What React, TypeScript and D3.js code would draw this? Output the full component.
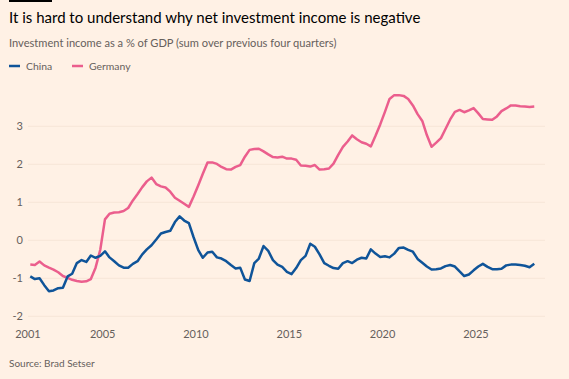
import * as d3 from "d3";

// quarterly, from 2001 Q1
const startYear = 2001;
const germany = [
  -0.64, -0.65, -0.56, -0.66, -0.72, -0.77, -0.84, -0.94, -0.99, -1.04,
  -1.07, -1.09, -1.08, -1.02, -0.72, -0.25, 0.55, 0.7, 0.73, 0.74,
  0.77, 0.85, 1.05, 1.22, 1.4, 1.55, 1.65, 1.48, 1.42, 1.39,
  1.28, 1.12, 1.04, 0.96, 0.88, 1.15, 1.45, 1.75, 2.05, 2.05,
  2.01, 1.93, 1.87, 1.86, 1.93, 1.98, 2.2, 2.38, 2.4, 2.41,
  2.34, 2.26, 2.19, 2.18, 2.2, 2.15, 2.15, 2.12, 1.97, 1.96,
  1.94, 1.98, 1.86, 1.87, 1.89, 2.02, 2.25, 2.46, 2.6, 2.76,
  2.66, 2.58, 2.54, 2.47, 2.75, 3.05, 3.38, 3.72, 3.82, 3.82,
  3.8, 3.72, 3.55, 3.32, 3.14, 2.77, 2.46, 2.57, 2.69, 2.93,
  3.18, 3.38, 3.43, 3.37, 3.42, 3.48, 3.34, 3.19, 3.18, 3.17,
  3.26, 3.4, 3.47, 3.55, 3.55, 3.53, 3.52, 3.51, 3.52,
];
const china = [
  -0.95, -1.02, -1.0, -1.18, -1.34, -1.32, -1.26, -1.25, -0.95, -0.88,
  -0.6, -0.52, -0.57, -0.4, -0.46, -0.41, -0.29, -0.45, -0.55, -0.66,
  -0.72, -0.72, -0.62, -0.55, -0.37, -0.24, -0.13, 0.02, 0.18, 0.22,
  0.25, 0.48, 0.63, 0.52, 0.45, 0.08, -0.26, -0.46, -0.32, -0.3,
  -0.45, -0.48, -0.55, -0.65, -0.74, -0.72, -1.03, -1.07, -0.6, -0.48,
  -0.15, -0.28, -0.52, -0.64, -0.7, -0.83, -0.89, -0.73, -0.52, -0.41,
  -0.09, -0.17, -0.37, -0.6, -0.67, -0.73, -0.75, -0.6, -0.55, -0.6,
  -0.51, -0.46, -0.48, -0.24, -0.35, -0.44, -0.42, -0.45, -0.35, -0.2,
  -0.19, -0.25, -0.3, -0.49, -0.59, -0.69, -0.77, -0.76, -0.74, -0.68,
  -0.65, -0.69, -0.82, -0.94, -0.9, -0.79, -0.69, -0.62, -0.7, -0.76,
  -0.76, -0.75, -0.66, -0.64, -0.64, -0.65, -0.67, -0.71, -0.62,
];
const xTicks = [2001, 2005, 2010, 2015, 2020, 2025];
const yTicks = [-2, -1, 0, 1, 2, 3];

const W = 569;
const H = 379;
const BLUE = "#0f5499";
const PINK = "#eb5e8d";
const GREY = "#66605c";
const FONT = "Lato, 'Open Sans', sans-serif";

// quarter midpoint
const qDate = (i: number) =>
  new Date(startYear + Math.floor(i / 4), (i % 4) * 3 + 1, 15);

export default function App() {
  const x = d3
    .scaleTime()
    .domain([new Date(2001, 0, 1), new Date(2025, 0, 1)])
    .range([28, 476]);
  const y = d3.scaleLinear().domain([0, 3]).range([240.3, 126.3]);

  const line = d3
    .line<number>()
    .x((_, i) => x(qDate(i)))
    .y((d) => y(d))
    .curve(d3.curveLinear);

  return (
    <svg
      width={W}
      height={H}
      style={{ position: "absolute", left: 0, top: 0, background: "#fff1e5" }}
      fontFamily={FONT}
    >
      <rect x={0} y={0} width={W} height={H} fill="#fff1e5" />
      <rect x={9} y={0} width={43} height={2} fill="#000" />
      <text x={9} y={23} fontSize={15} fill="#000">
        It is hard to understand why net investment income is negative
      </text>
      <text x={9} y={46.5} fontSize={11.1} fill={GREY}>
        Investment income as a % of GDP (sum over previous four quarters)
      </text>

      {/* legend */}
      <line x1={9} x2={20} y1={66} y2={66} stroke={BLUE} strokeWidth={2.5} />
      <text x={26} y={69.5} fontSize={10.4} fill={GREY}>China</text>
      <line x1={72} x2={83} y1={66} y2={66} stroke={PINK} strokeWidth={2.5} />
      <text x={89} y={69.5} fontSize={10.4} fill={GREY}>Germany</text>

      {/* grid + y labels */}
      {yTicks.map((t) => (
        <g key={t}>
          <line x1={28} x2={545} y1={y(t)} y2={y(t)} stroke="#f7e6d7" strokeWidth={1} />
          <text x={23} y={y(t) + 4} fontSize={11} fill={GREY} textAnchor="end">
            {t}
          </text>
        </g>
      ))}

      {/* x labels */}
      {xTicks.map((t) => (
        <text
          key={t}
          x={x(new Date(t, 0, 1))}
          y={338}
          fontSize={11}
          fill={GREY}
          textAnchor="middle"
        >
          {t}
        </text>
      ))}

      <path d={line(germany) ?? ""} fill="none" stroke={PINK} strokeWidth={2.5} strokeLinejoin="round" />
      <path d={line(china) ?? ""} fill="none" stroke={BLUE} strokeWidth={2.5} strokeLinejoin="round" />

      <text x={9} y={367} fontSize={10} fill={GREY}>Source: Brad Setser</text>
    </svg>
  );
}
